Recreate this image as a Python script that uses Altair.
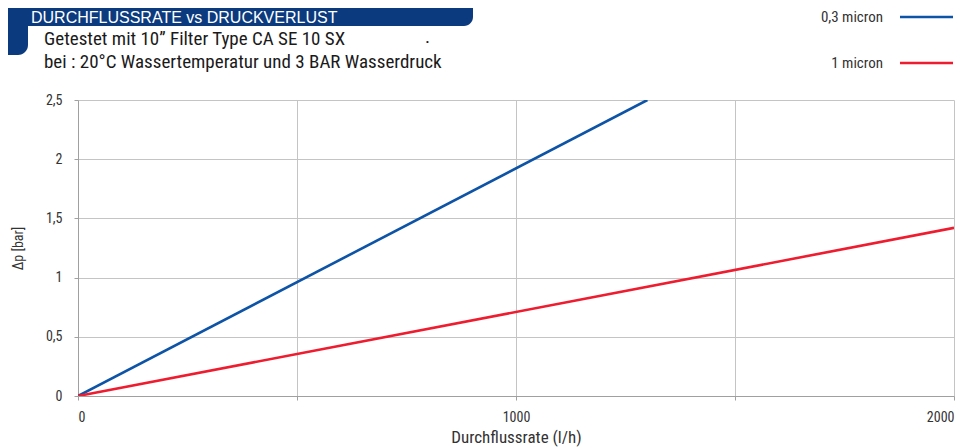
import altair as alt
import pandas as pd

# Data
series = ["0,3 micron", "1 micron"]
colors = ["#0d53a6", "#ee1c2e"]
flow_03 = [0, 1300]
dp_03 = [0.0, 2.5]
flow_1 = [0, 2000]
dp_1 = [0.0, 1.42]

x_ticks = [0, 500, 1000, 1500, 2000]
y_ticks = [0, 0.5, 1, 1.5, 2, 2.5]

title_text = "DURCHFLUSSRATE vs DRUCKVERLUST"
sub1 = "Getestet mit 10\u201d Filter Type CA SE 10 SX"
sub2 = "bei : 20\u00b0C Wassertemperatur und 3 BAR Wasserdruck"

FONT = "Liberation Sans Narrow, Roboto Condensed, DejaVu Sans Condensed, Arial Narrow, sans-serif"
BANNER_FONT = "Liberation Sans, Arial, sans-serif"

df = pd.DataFrame({
    "flow": flow_03 + flow_1,
    "dp": dp_03 + dp_1,
    "series": [series[0]] * len(flow_03) + [series[1]] * len(flow_1),
})

W, H = 876, 296

xs = alt.Scale(domain=[0, 2000], nice=False)
ys = alt.Scale(domain=[0, 2.5], nice=False)
cs = alt.Scale(domain=series, range=colors)

lines = alt.Chart(df).mark_line(strokeWidth=2.6, clip=True).encode(
    x=alt.X("flow:Q", scale=xs, title="Durchflussrate (l/h)",
            axis=alt.Axis(values=x_ticks, format="d",
                          labelExpr="datum.value % 1000 == 0 ? datum.label : ''",
                          grid=True, tickSize=4, labelPadding=10, titlePadding=5,
                          labelFontSize=14, titleFontSize=17)),
    y=alt.Y("dp:Q", scale=ys, title="\u0394p [bar]",
            axis=alt.Axis(values=y_ticks,
                          labelExpr="replace(format(datum.value, '~g'), '.', ',')",
                          grid=True, tickSize=4, labelPadding=12, titlePadding=20,
                          labelFontSize=14, titleFontSize=14)),
    color=alt.Color("series:N", scale=cs, legend=None),
    detail="series:N",
)

# Banner
banner_h = alt.Chart(pd.DataFrame({"a": [0]})).mark_rect(
    color="#0b3a7e", cornerRadius=9, clip=False
).encode(x=alt.value(-100), x2=alt.value(395), y=alt.value(-125), y2=alt.value(-74))
banner_v = alt.Chart(pd.DataFrame({"a": [0]})).mark_rect(
    color="#0b3a7e", cornerRadius=10, clip=False
).encode(x=alt.value(-100), x2=alt.value(-50), y=alt.value(-125), y2=alt.value(-45))
banner_t = alt.Chart(pd.DataFrame({"t": [title_text]})).mark_text(
    color="white", fontSize=16, font=BANNER_FONT, align="left", baseline="alphabetic"
).encode(x=alt.value(-47), y=alt.value(-77), text="t:N")

subs = alt.Chart(pd.DataFrame({"t": [sub1, sub2], "yy": [-61, -38]})).mark_text(
    color="#1a1a1a", fontSize=19, font=FONT, align="left", baseline="middle"
).encode(x=alt.value(-34), y=alt.Y("yy:Q", scale=None), text="t:N")
dot = alt.Chart(pd.DataFrame({"t": ["."]})).mark_text(
    color="#1a1a1a", fontSize=19, font=FONT, align="left", baseline="middle"
).encode(x=alt.value(347), y=alt.value(-63), text="t:N")

# Legend
leg = pd.DataFrame({"series": series, "yy": [-83, -37]})
leg_t = alt.Chart(leg).mark_text(
    color="#333333", fontSize=15, font=FONT, align="right", baseline="middle"
).encode(x=alt.value(805), y=alt.Y("yy:Q", scale=None), text="series:N")
leg_l = alt.Chart(leg).mark_rule(strokeWidth=2.6).encode(
    x=alt.value(822), x2=alt.value(875), y=alt.Y("yy:Q", scale=None),
    color=alt.Color("series:N", scale=cs, legend=None),
)

chart = alt.layer(banner_h, banner_v, banner_t, subs, dot, leg_l, leg_t, lines).properties(
    width=W, height=H,
    autosize=alt.AutoSizeParams(type="none"),
    padding={"left": 70, "top": 92, "right": 7, "bottom": 52},
).configure_view(stroke=None).configure_axis(
    gridColor="#c4c4c4", gridWidth=1, domainColor="#a0a0a0", tickColor="#a0a0a0",
    labelColor="#333333", titleColor="#333333", labelFont=FONT, titleFont=FONT,
    titleFontWeight="normal",
).configure_axisY(titleAngle=-90)

chart.save("out.html", embed_options={"renderer": "svg", "actions": False})
